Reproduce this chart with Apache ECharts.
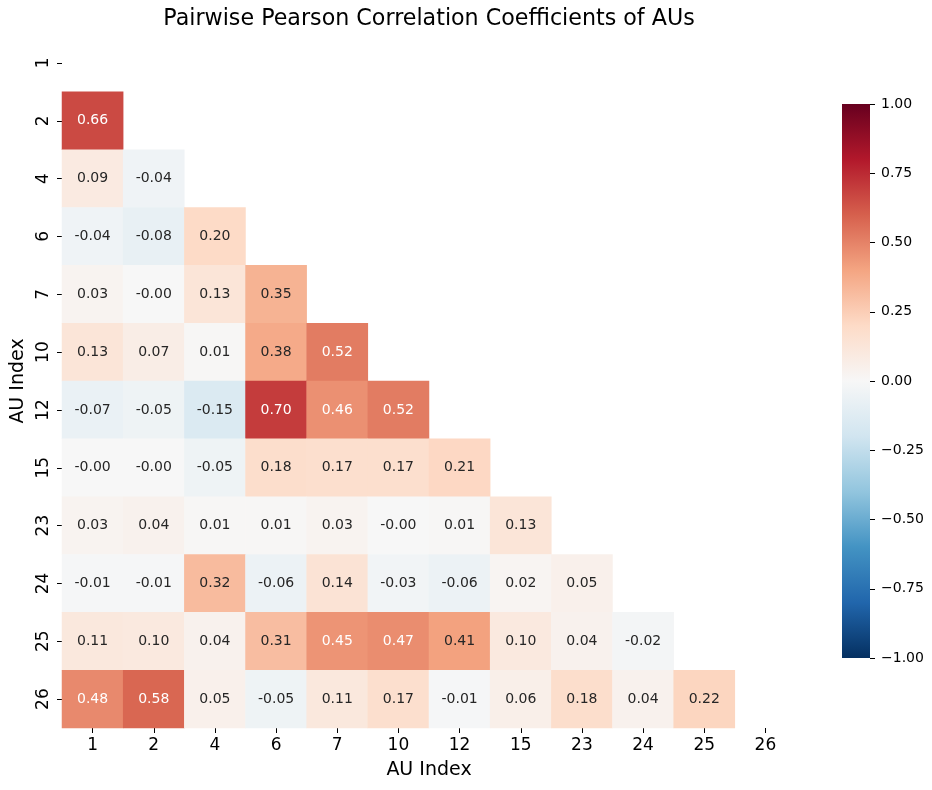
<!DOCTYPE html>
<html>
<head>
<meta charset="utf-8">
<script src="https://cdn.jsdelivr.net/npm/echarts@6/dist/echarts.min.js"></script>
<style>html,body{margin:0;padding:0;background:#fff}#chart{width:932px;height:790px}</style>
</head>
<body>
<div id="chart"></div>
<script>
const auLabels = ['1','2','4','6','7','10','12','15','23','24','25','26'];
// lower-triangle rows (row label -> values for columns before it)
const row1 = [];
const row2 = [0.66];
const row4 = [0.09, -0.04];
const row6 = [-0.04, -0.08, 0.20];
const row7 = [0.03, -0.001, 0.13, 0.35];
const row10 = [0.13, 0.07, 0.01, 0.38, 0.52];
const row12 = [-0.07, -0.05, -0.15, 0.70, 0.46, 0.52];
const row15 = [-0.001, -0.001, -0.05, 0.18, 0.17, 0.17, 0.21];
const row23 = [0.03, 0.04, 0.01, 0.01, 0.03, -0.001, 0.01, 0.13];
const row24 = [-0.01, -0.01, 0.32, -0.06, 0.14, -0.03, -0.06, 0.02, 0.05];
const row25 = [0.11, 0.10, 0.04, 0.31, 0.45, 0.47, 0.41, 0.10, 0.04, -0.02];
const row26 = [0.48, 0.58, 0.05, -0.05, 0.11, 0.17, -0.01, 0.06, 0.18, 0.04, 0.22];

const rows = [row1,row2,row4,row6,row7,row10,row12,row15,row23,row24,row25,row26];
const rdbuR = ['#053061','#2166ac','#4393c3','#92c5de','#d1e5f0','#f7f7f7','#fddbc7','#f4a582','#d6604d','#b2182b','#67001f'];

function hexToRgb(h){return [parseInt(h.substr(1,2),16),parseInt(h.substr(3,2),16),parseInt(h.substr(5,2),16)];}
function cmap(v){
  let t = (v + 1) / 2 * (rdbuR.length - 1);
  t = Math.max(0, Math.min(rdbuR.length - 1, t));
  const i = Math.min(Math.floor(t), rdbuR.length - 2);
  const f = t - i;
  const a = hexToRgb(rdbuR[i]), b = hexToRgb(rdbuR[i+1]);
  return a.map((c,k)=>c + (b[k]-c)*f);
}
function lum(rgb){
  const l = rgb.map(c=>{c/=255;return c<=0.03928?c/12.92:Math.pow((c+0.055)/1.055,2.4);});
  return 0.2126*l[0]+0.7152*l[1]+0.0722*l[2];
}
const data = [];
rows.forEach((r, yi) => {
  r.forEach((v, xi) => {
    const txt = lum(cmap(v)) > 0.408 ? '#262626' : '#ffffff';
    data.push({value:[xi, yi, v], label:{color:txt}});
  });
});

const FONT = 'DejaVu Sans';
const gradStops = rdbuR.map((c,i)=>({offset:i/(rdbuR.length-1), color:c}));
const chart = echarts.init(document.getElementById('chart'));
chart.setOption({
  backgroundColor:'#fff',
  animation:false,
  title:{
    text:'Pairwise Pearson Correlation Coefficients of AUs',
    left:429, top:8, textAlign:'center', padding:0,
    textStyle:{fontFamily:FONT, fontSize:22.2, fontWeight:'normal', color:'#000'}
  },
  grid:[
    {left:62, top:34, width:734, height:694},
    {left:842, top:104, width:28, height:554}
  ],
  graphic:[{
    type:'rect', left:842, top:104, silent:true, z:-1,
    shape:{width:28, height:554},
    style:{fill:new echarts.graphic.LinearGradient(0,1,0,0,gradStops)}
  }],
  xAxis:[
    {type:'category', data:auLabels, gridIndex:0,
     name:'AU Index', nameLocation:'middle', nameGap:33,
     nameTextStyle:{fontFamily:FONT, fontSize:19, color:'#000'},
     axisLine:{show:false}, axisTick:{show:true, alignWithLabel:true, length:5, lineStyle:{color:'#000'}},
     axisLabel:{fontFamily:FONT, fontSize:17, color:'#000', margin:9},
     splitLine:{show:false}, splitArea:{show:false}},
    {type:'value', gridIndex:1, show:false, min:0, max:1}
  ],
  yAxis:[
    {type:'category', data:auLabels, gridIndex:0, inverse:true,
     name:'AU Index', nameLocation:'middle', nameGap:34,
     nameTextStyle:{fontFamily:FONT, fontSize:19, color:'#000'},
     axisLine:{show:false}, axisTick:{show:true, alignWithLabel:true, length:5, lineStyle:{color:'#000'}},
     axisLabel:{fontFamily:FONT, fontSize:17, color:'#000', rotate:90, margin:10},
     splitLine:{show:false}, splitArea:{show:false}},
    {type:'value', gridIndex:1, position:'right', min:-1, max:1, interval:0.25,
     axisLine:{show:false, onZero:false}, axisTick:{show:true, length:5, lineStyle:{color:'#000'}},
     axisLabel:{fontFamily:FONT, fontSize:14, color:'#000', margin:11,
       formatter:v=>(v<0?'\u2212':'')+Math.abs(v).toFixed(2)},
     splitLine:{show:false}}
  ],
  visualMap:{
    type:'continuous', min:-1, max:1, seriesIndex:0, show:false,
    inRange:{color:rdbuR}
  },
  series:[{
    type:'heatmap', xAxisIndex:0, yAxisIndex:0, data:data,
    label:{show:true, fontFamily:FONT, fontSize:14,
      formatter:p=>p.value[2].toFixed(2)},
    itemStyle:{borderWidth:0},
    emphasis:{disabled:true}
  }]
});
</script>
</body>
</html>
